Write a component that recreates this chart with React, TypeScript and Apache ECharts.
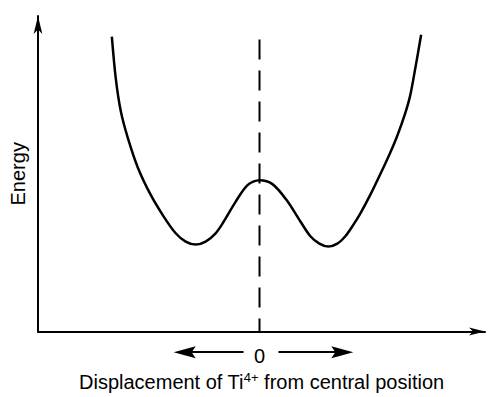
import React, { useEffect, useRef } from 'react';
import * as echarts from 'echarts';

// Double-well potential curve (arbitrary units)
const displacement = [-1.48, -1.44, -1.39, -1.32, -1.22, -1.09, -0.96, -0.84, -0.74, -0.64, -0.54, -0.44, -0.37, -0.24, -0.12, 0, 0.13, 0.27, 0.41, 0.51, 0.6, 0.69, 0.78, 0.86, 0.93, 1.01, 1.11, 1.21, 1.31, 1.38, 1.46, 1.51, 1.56, 1.62];
const energy = [3.0, 2.57, 2.24, 1.97, 1.67, 1.39, 1.17, 1.0, 0.915, 0.885, 0.915, 1.0, 1.1, 1.32, 1.49, 1.54, 1.5, 1.34, 1.12, 0.97, 0.895, 0.865, 0.895, 0.97, 1.07, 1.2, 1.39, 1.6, 1.82, 1.99, 2.22, 2.4, 2.67, 3.02];

// Dashed centre line (x = 0)
const centreLineX = [0, 0];
const centreLineE = [2.97, 0];

// Direction arrows under the axis
const arrowLevel = -0.21;
const leftArrowX = [-0.16, -0.75];
const rightArrowX = [0.19, 0.83];

// Axis ranges and tick labels
const xRange = [-2.22, 2.26];
const yRange = [0, 3.21];
const xTickValues = [0];

const FONT = '"Liberation Sans", Arial, Helvetica, sans-serif';
const ARROW_HEAD = 'path://M6,0L12,22L6,18L0,22Z';

export default function App() {
  const ref = useRef<HTMLDivElement>(null);
  useEffect(() => {
    const chart = echarts.init(ref.current!, null, { renderer: 'svg' });
    chart.setOption({
      animation: false,
      backgroundColor: '#fff',
      grid: { left: 37, right: 8, top: 16, bottom: 60 },
      xAxis: {
        type: 'value',
        min: xRange[0],
        max: xRange[1],
        axisLine: {
          show: true,
          onZero: false,
          symbol: ['none', 'arrow'],
          symbolSize: [6, 16],
          lineStyle: { color: '#000', width: 2 },
        },
        axisTick: { show: false },
        splitLine: { show: false },
        axisLabel: {
          customValues: xTickValues,
          fontSize: 20,
          color: '#000',
          fontFamily: FONT,
          margin: 14,
        },
        name: '{a|Displacement of Ti}{s|4+}{a| from central position}',
        nameLocation: 'middle',
        nameGap: 36,
        nameTextStyle: {
          rich: {
            a: { fontSize: 20, color: '#000', fontFamily: FONT, lineHeight: 23 },
            s: { fontSize: 13, color: '#000', fontFamily: FONT, lineHeight: 15, verticalAlign: 'top' },
          },
        },
      },
      yAxis: {
        type: 'value',
        min: yRange[0],
        max: yRange[1],
        axisLine: {
          show: true,
          onZero: false,
          symbol: ['none', 'arrow'],
          symbolSize: [6.5, 18],
          lineStyle: { color: '#000', width: 2 },
        },
        axisTick: { show: false },
        splitLine: { show: false },
        axisLabel: { show: false },
        name: 'Energy',
        nameLocation: 'middle',
        nameRotate: 90,
        nameGap: 10,
        nameTextStyle: { fontSize: 20, color: '#000', fontFamily: FONT },
      },
      series: [
        {
          type: 'line',
          data: displacement.map((x, i) => [x, energy[i]]),
          smooth: 0.3,
          symbol: 'none',
          lineStyle: { color: '#000', width: 2.5 },
        },
        {
          type: 'line',
          data: centreLineX.map((x, i) => [x, centreLineE[i]]),
          symbol: 'none',
          lineStyle: { color: '#000', width: 2, type: [20, 11] },
        },
        {
          type: 'lines',
          coordinateSystem: 'cartesian2d',
          clip: false,
          symbol: ['none', ARROW_HEAD],
          symbolSize: [0, [12, 22]],
          lineStyle: { color: '#000', width: 2, opacity: 1 },
          itemStyle: { color: '#000' },
          data: [
            { coords: leftArrowX.map((x) => [x, arrowLevel]) },
            { coords: rightArrowX.map((x) => [x, arrowLevel]) },
          ],
        },
      ],
    });
    return () => chart.dispose();
  }, []);
  return <div ref={ref} style={{ position: 'fixed', left: 0, top: 0, width: 493, height: 397 }} />;
}
